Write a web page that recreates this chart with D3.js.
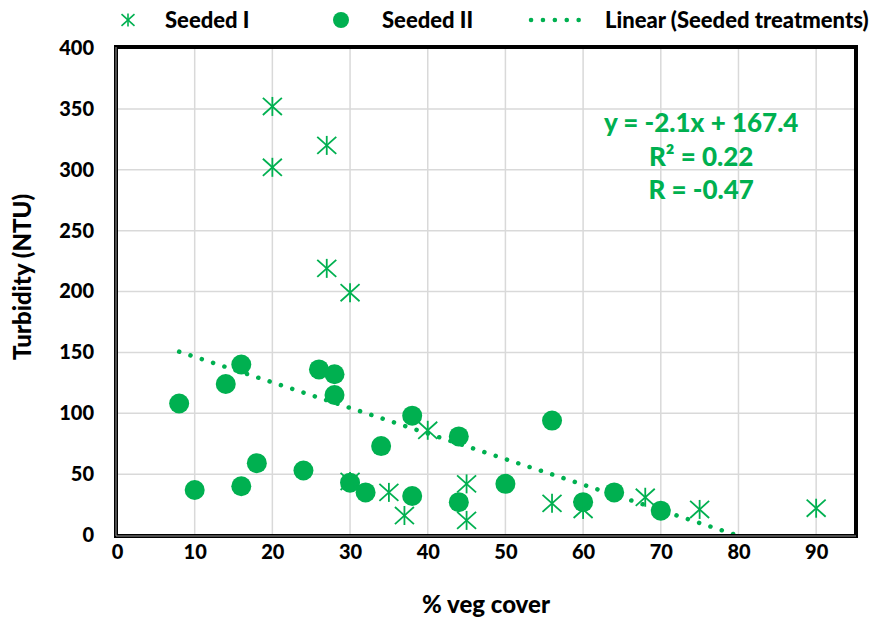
<!DOCTYPE html>
<html>
<head>
<meta charset="utf-8">
<script src="https://cdn.jsdelivr.net/npm/d3@7"></script>
<style>
  body { margin: 0; background: #fff; }
  text { font-family: Lato, "Open Sans", sans-serif; font-weight: 900; }
</style>
</head>
<body>
<div id="chart"></div>
<script>
// Seeded I (asterisks)
const seededIX = [20, 20, 27, 27, 30, 30, 35, 37, 40, 45, 45, 56, 60, 68, 75, 90];
const seededIY = [352, 302, 320, 219, 199, 44, 35, 16, 86, 42, 12, 26, 21, 31, 21, 22];

// Seeded II (circles)
const seededIIX = [8, 10, 14, 16, 16, 18, 24, 26, 28, 28, 30, 32, 34, 38, 38, 44, 44, 50, 56, 60, 64, 70];
const seededIIY = [108, 37, 124, 140, 40, 59, 53, 136, 132, 115, 43, 35, 73, 98, 32, 81, 27, 42, 94, 27, 35, 20];

// linear trend end points
const trendX = [8, 79.7];
const trendY = [150.6, 0];

const xTicks = [0, 10, 20, 30, 40, 50, 60, 70, 80, 90];
const yTicks = [0, 50, 100, 150, 200, 250, 300, 350, 400];
const eqLines = ["y = -2.1x + 167.4", "R² = 0.22", "R = -0.47"];

const green = "#00b050";
const W = 879, H = 620;
const margin = { top: 48, right: 24, bottom: 85, left: 117 };
const width = W - margin.left - margin.right,
    height = H - margin.top - margin.bottom;

const svg = d3.select("#chart").append("svg")
    .attr("width", W).attr("height", H);

const g = svg.append("g")
    .attr("transform", "translate(" + margin.left + "," + margin.top + ")");

const x = d3.scaleLinear().domain([0, 95]).range([0, width]);
const y = d3.scaleLinear().domain([0, 400]).range([height, 0]);

// grid
g.append("g").selectAll("line").data(xTicks.slice(1)).enter().append("line")
    .attr("x1", d => x(d)).attr("x2", d => x(d))
    .attr("y1", 0).attr("y2", height)
    .attr("stroke", "#d9d9d9").attr("stroke-width", 1.5);
g.append("g").selectAll("line").data(yTicks.slice(1)).enter().append("line")
    .attr("y1", d => y(d)).attr("y2", d => y(d))
    .attr("x1", 0).attr("x2", width)
    .attr("stroke", "#d9d9d9").attr("stroke-width", 1.5);

// axes (labels only)
const xAxis = g.append("g")
    .attr("transform", "translate(0," + height + ")")
    .call(d3.axisBottom(x).tickValues(xTicks).tickSize(0).tickPadding(10));
const yAxis = g.append("g")
    .call(d3.axisLeft(y).tickValues(yTicks).tickSize(0).tickPadding(23));
[xAxis, yAxis].forEach(a => {
    a.select(".domain").remove();
    a.selectAll("text").style("font-size", "20px").attr("fill", "#000")
        .style("font-family", "Lato, 'Open Sans', sans-serif");
});

// trend line (dotted)
g.append("line")
    .attr("x1", x(trendX[0])).attr("y1", y(trendY[0]))
    .attr("x2", x(trendX[1])).attr("y2", y(trendY[1]))
    .attr("stroke", green).attr("stroke-width", 4.5)
    .attr("stroke-linecap", "round")
    .attr("stroke-dasharray", "0.1 11.8");

// circles
g.append("g").selectAll("circle")
    .data(seededIIX.map((d, i) => [d, seededIIY[i]]))
    .enter().append("circle")
    .attr("cx", d => x(d[0])).attr("cy", d => y(d[1]))
    .attr("r", 10).attr("fill", green);

// asterisks
const star = (sel, s) => {
    sel.append("line").attr("x1", 0).attr("x2", 0).attr("y1", -s).attr("y2", s);
    sel.append("line").attr("x1", -s).attr("x2", s).attr("y1", -s * 0.9).attr("y2", s * 0.9);
    sel.append("line").attr("x1", -s).attr("x2", s).attr("y1", s * 0.9).attr("y2", -s * 0.9);
};
g.append("g").selectAll("g")
    .data(seededIX.map((d, i) => [d, seededIY[i]]))
    .enter().append("g")
    .attr("transform", d => "translate(" + x(d[0]) + "," + y(d[1]) + ")")
    .attr("stroke", green).attr("stroke-width", 1.8)
    .each(function () { star(d3.select(this), 9.5); });

// equation text
g.append("g").selectAll("text").data(eqLines).enter().append("text")
    .attr("x", x(75.2)).attr("y", (d, i) => 84 + i * 33.5)
    .attr("text-anchor", "middle")
    .attr("fill", green).style("font-size", "26px")
    .text(d => d);

// plot border
g.append("rect").attr("x", -1).attr("y", -1)
    .attr("width", width + 2).attr("height", height + 2)
    .attr("fill", "none").attr("stroke", "#000").attr("stroke-width", 4);
g.append("path")
    .attr("d", "M-1," + (-1) + "V" + (height + 1) + "H" + (width + 1))
    .attr("fill", "none").attr("stroke", "#999").attr("stroke-width", 1);

// axis titles
svg.append("text")
    .attr("x", margin.left + x(47.5)).attr("y", 613)
    .attr("text-anchor", "middle").style("font-size", "24px")
    .text("% veg cover");
svg.append("text")
    .attr("transform", "translate(31,277) rotate(-90)")
    .attr("text-anchor", "middle").style("font-size", "24px")
    .text("Turbidity (NTU)");

// legend
const leg = svg.append("g");
const ls = leg.append("g").attr("transform", "translate(128,20)")
    .attr("stroke", green).attr("stroke-width", 1.6);
star(ls, 6.5);
leg.append("text").attr("x", 165).attr("y", 28).style("font-size", "22px").text("Seeded I");
leg.append("circle").attr("cx", 341).attr("cy", 20).attr("r", 8).attr("fill", green);
leg.append("text").attr("x", 382).attr("y", 28).style("font-size", "22px").text("Seeded II");
leg.append("line").attr("x1", 531).attr("x2", 590).attr("y1", 20).attr("y2", 20)
    .attr("stroke", green).attr("stroke-width", 4.5).attr("stroke-linecap", "round")
    .attr("stroke-dasharray", "0.1 11.8");
leg.append("text").attr("x", 605).attr("y", 28).style("font-size", "22px").text("Linear (Seeded treatments)");
</script>
</body>
</html>
